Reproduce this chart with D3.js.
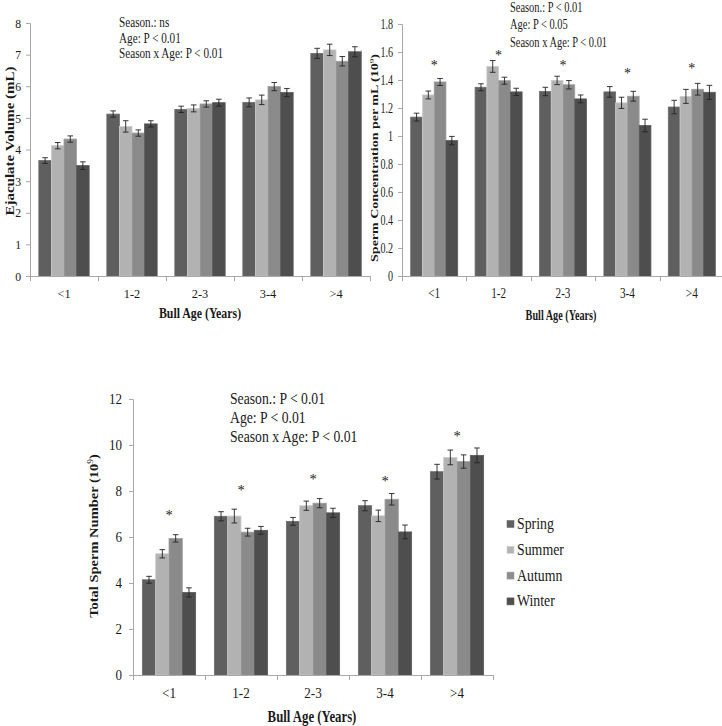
<!DOCTYPE html>
<html>
<head>
<meta charset="utf-8">
<script src="https://cdn.jsdelivr.net/npm/d3@7"></script>
<style>
  html, body { margin: 0; padding: 0; background: #fff; }
  svg { display: block; }
</style>
</head>
<body>
<svg id="chart" width="722" height="726"></svg>
<script>
// ---------- DATA ----------
const ageGroups = ["<1", "1-2", "2-3", "3-4", ">4"];
const seasons = ["Spring", "Summer", "Autumn", "Winter"];
const seasonColors = ["#606060", "#b4b4b4", "#8c8c8c", "#4f4f4f"];

// Ejaculate volume (mL)  [age][season]
const volumeMean = [
  [3.65, 4.12, 4.33, 3.49],
  [5.12, 4.73, 4.52, 4.81],
  [5.27, 5.30, 5.44, 5.48],
  [5.49, 5.57, 5.99, 5.80],
  [7.04, 7.15, 6.79, 7.09]
];
const volumeSE = [
  [0.09, 0.10, 0.10, 0.12],
  [0.10, 0.18, 0.10, 0.10],
  [0.10, 0.11, 0.10, 0.11],
  [0.14, 0.15, 0.13, 0.13],
  [0.16, 0.18, 0.15, 0.16]
];
const volumeTicks = [0, 1, 2, 3, 4, 5, 6, 7, 8];
const volumeTickLabels = ["0", "1", "2", "3", "4", "5", "6", "7", "8"];
const volumeStats = ["Season.: ns", "Age: P < 0.01", "Season x Age: P < 0.01"];

// Sperm concentration per mL (10^9)
const concMean = [
  [1.135, 1.293, 1.386, 0.967],
  [1.348, 1.497, 1.395, 1.315],
  [1.318, 1.397, 1.366, 1.265],
  [1.315, 1.237, 1.284, 1.075],
  [1.207, 1.283, 1.334, 1.312]
];
const concSE = [
  [0.028, 0.028, 0.025, 0.030],
  [0.025, 0.042, 0.025, 0.026],
  [0.030, 0.030, 0.030, 0.028],
  [0.038, 0.040, 0.035, 0.045],
  [0.048, 0.050, 0.042, 0.050]
];
const concStars = [1.53, 1.60, 1.53, 1.47, 1.51];
const concTicks = [0, 0.2, 0.4, 0.6, 0.8, 1, 1.2, 1.4, 1.6, 1.8];
const concTickLabels = ["0", "0.2", "0.4", "0.6", "0.8", "1", "1.2", "1.4", "1.6", "1.8"];
const concStats = ["Season.: P < 0.01", "Age: P < 0.05", "Season x Age: P < 0.01"];

// Total sperm number (10^9)
const totalMean = [
  [4.14, 5.27, 5.94, 3.59],
  [6.90, 6.91, 6.21, 6.29],
  [6.68, 7.36, 7.47, 7.05],
  [7.36, 6.92, 7.64, 6.22],
  [8.84, 9.46, 9.28, 9.55]
];
const totalSE = [
  [0.15, 0.18, 0.16, 0.20],
  [0.20, 0.30, 0.17, 0.17],
  [0.17, 0.20, 0.20, 0.20],
  [0.22, 0.25, 0.25, 0.30],
  [0.32, 0.32, 0.29, 0.32]
];
const totalStars = [7.09, 8.17, 8.65, 8.57, 10.52];
const totalTicks = [0, 2, 4, 6, 8, 10, 12];
const totalTickLabels = ["0", "2", "4", "6", "8", "10", "12"];
const totalStats = ["Season.: P < 0.01", "Age: P < 0.01", "Season x Age: P < 0.01"];

const xTitle = "Bull Age (Years)";

// ---------- DRAW ----------
const FONT = "'Liberation Serif', 'Times New Roman', serif";
const INK = "#1a1a1a";
const svg = d3.select("#chart");

// text helper with horizontal compression (the reference is squeezed sideways)
function label(parent, x, y, str, size, sx, opts = {}) {
  return parent.append("text")
    .attr("transform", `translate(${x},${y}) scale(${sx},1)`)
    .attr("font-size", size)
    .attr("text-anchor", opts.anchor || "start")
    .attr("font-weight", opts.bold ? "bold" : "normal")
    .style("font-family", FONT).style("fill", INK)
    .text(str);
}

// thin separator line seen at left of the concentration panel
svg.append("line").attr("x1", 361.5).attr("x2", 361.5).attr("y1", 50).attr("y2", 277)
  .attr("stroke", "#cccccc").attr("stroke-width", 1);

function drawPanel(cfg) {
  const g = svg.append("g");
  const x = d3.scaleBand().domain(ageGroups).range([cfg.x0, cfg.x1])
    .paddingInner(cfg.pad).paddingOuter(cfg.pad / 2);
  const xs = d3.scaleBand().domain(seasons).range([0, x.bandwidth()]);
  const y = d3.scaleLinear().domain(cfg.domain).range([cfg.y0, cfg.y1]);

  // y axis
  const yAxis = d3.axisLeft(y).tickValues(cfg.ticks)
    .tickFormat((d, i) => cfg.tickLabels[i]).tickSize(4).tickPadding(cfg.tickPad);
  const ya = g.append("g").attr("transform", `translate(${cfg.x0},0)`).call(yAxis);
  ya.attr("font-family", null);
  ya.select(".domain").attr("stroke", "#a8a8a8");
  ya.selectAll(".tick line").attr("stroke", "#a8a8a8");
  ya.selectAll(".tick text")
    .attr("font-size", cfg.tickFont)
    .style("font-family", FONT).style("fill", INK)
    .attr("transform", function () {
      const tx = +this.getAttribute("x");
      return `translate(${tx},0) scale(${cfg.tickSx},1)`;
    })
    .attr("x", 0);

  // bars
  ageGroups.forEach((age, ai) => {
    const gg = g.append("g").attr("transform", `translate(${x(age)},0)`);
    seasons.forEach((s, si) => {
      const v = cfg.mean[ai][si], e = cfg.se[ai][si];
      const bx = xs(s), bw = xs.bandwidth();
      gg.append("rect")
        .attr("x", bx).attr("y", y(v))
        .attr("width", bw).attr("height", y(0) - y(v))
        .attr("fill", seasonColors[si])
        .attr("stroke", d3.color(seasonColors[si]).brighter(0.35))
        .attr("stroke-width", 0.8);
      gg.append("rect")
        .attr("x", bx + 1.5).attr("y", y(v) + 1)
        .attr("width", Math.max(0, bw - 3)).attr("height", Math.max(0, y(0) - y(v) - 1))
        .attr("fill", d3.color(seasonColors[si]).darker(0.08)).attr("opacity", 0.5);
      const cx = bx + bw / 2, cap = 2.8;
      gg.append("line").attr("x1", cx).attr("x2", cx).attr("y1", y(v + e)).attr("y2", y(v - e))
        .attr("stroke", "#222").attr("stroke-width", 0.9);
      [v + e, v - e].forEach(t => {
        gg.append("line").attr("x1", cx - cap).attr("x2", cx + cap).attr("y1", y(t)).attr("y2", y(t))
          .attr("stroke", "#222").attr("stroke-width", 0.9);
      });
    });
  });

  // x axis
  const xa = g.append("g").attr("transform", `translate(0,${cfg.y0})`);
  xa.append("line").attr("x1", cfg.x0).attr("x2", cfg.x1).attr("y1", 0.5).attr("y2", 0.5)
    .attr("stroke", "#a8a8a8");
  const step = x.step();
  d3.range(ageGroups.length + 1).forEach(i => {
    const tx = Math.round(cfg.x0 + i * step) + 0.5;
    xa.append("line").attr("x1", tx).attr("x2", tx).attr("y1", 0).attr("y2", 5).attr("stroke", "#a8a8a8");
  });
  ageGroups.forEach(age => {
    label(xa, x(age) + x.bandwidth() / 2, cfg.catDy, age, cfg.catFont, cfg.catSx, { anchor: "middle" });
  });

  // stars
  if (cfg.stars) {
    ageGroups.forEach((age, ai) => {
      label(g, x(age) + x.bandwidth() / 2, y(cfg.stars[ai]) + 8, "*", cfg.tickFont, 1, { anchor: "middle" });
    });
  }

  // stats annotation
  cfg.stats.forEach((t, i) => {
    label(g, cfg.statX, cfg.statY[i], t, cfg.statFont, cfg.statSx);
  });

  // y title (rotated; glyph thickness compressed horizontally)
  const yt = g.append("text")
    .attr("transform", `translate(${cfg.yTitleX},${cfg.yTitleY}) rotate(-90) scale(1,${cfg.yTitleSx})`)
    .attr("text-anchor", "middle").attr("font-weight", "bold").attr("font-size", cfg.yTitleFont)
    .style("font-family", FONT).style("fill", INK);
  yt.append("tspan").text(cfg.yTitle);
  if (cfg.yTitleSup) {
    yt.append("tspan").text("(10");
    yt.append("tspan").attr("font-size", cfg.yTitleFont * 0.65).attr("dy", -cfg.yTitleFont * 0.4)
      .attr("font-weight", "normal").text("9");
    yt.append("tspan").attr("dy", cfg.yTitleFont * 0.4).text(")");
  }

  // x title
  label(g, cfg.xTitleX, cfg.xTitleY, xTitle, cfg.xTitleFont, cfg.xTitleSx, { anchor: "middle", bold: true });
}

drawPanel({
  x0: 30, x1: 370, y0: 276, y1: 23, domain: [0, 8], pad: 0.26,
  ticks: volumeTicks, tickLabels: volumeTickLabels, tickFont: 13, tickSx: 0.9, tickPad: 5,
  catFont: 13, catSx: 0.95, catDy: 22,
  mean: volumeMean, se: volumeSE, stars: null,
  stats: volumeStats, statX: 119, statY: [27, 42.5, 58], statFont: 14, statSx: 0.8,
  yTitle: "Ejaculate Volume (mL)", yTitleSup: false, yTitleX: 14, yTitleY: 141, yTitleFont: 15, yTitleSx: 0.8,
  xTitleX: 200, xTitleY: 318, xTitleFont: 15, xTitleSx: 0.79
});

drawPanel({
  x0: 402, x1: 724, y0: 276, y1: 24, domain: [0, 1.8], pad: 0.27,
  ticks: concTicks, tickLabels: concTickLabels, tickFont: 14, tickSx: 0.72, tickPad: 5,
  catFont: 14, catSx: 0.8, catDy: 22,
  mean: concMean, se: concSE, stars: concStars,
  stats: concStats, statX: 510, statY: [12, 28.5, 47], statFont: 14.5, statSx: 0.72,
  yTitle: "Sperm Concentration  per mL ", yTitleSup: true, yTitleX: 378, yTitleY: 158, yTitleFont: 14, yTitleSx: 0.75,
  xTitleX: 561, xTitleY: 320, xTitleFont: 15, xTitleSx: 0.68
});

drawPanel({
  x0: 133, x1: 493, y0: 675, y1: 399, domain: [0, 12], pad: 0.26,
  ticks: totalTicks, tickLabels: totalTickLabels, tickFont: 14.5, tickSx: 0.9, tickPad: 7,
  catFont: 14.5, catSx: 0.9, catDy: 23,
  mean: totalMean, se: totalSE, stars: totalStars,
  stats: totalStats, statX: 230, statY: [404, 423, 442], statFont: 16.5, statSx: 0.83,
  yTitle: "Total Sperm Number ", yTitleSup: true, yTitleX: 98, yTitleY: 536, yTitleFont: 14.5, yTitleSx: 0.9,
  xTitleX: 312, xTitleY: 722, xTitleFont: 16, xTitleSx: 0.8
});

// legend
const legend = svg.append("g");
seasons.forEach((s, i) => {
  const ly = 524 + i * 25.8;
  legend.append("rect").attr("x", 507).attr("y", ly - 3.5).attr("width", 7).attr("height", 7)
    .attr("fill", seasonColors[i]).attr("stroke", d3.color(seasonColors[i]).brighter(0.4)).attr("stroke-width", 0.6);
  label(legend, 517, ly + 5, s, 16.5, 0.84);
});
</script>
</body>
</html>
